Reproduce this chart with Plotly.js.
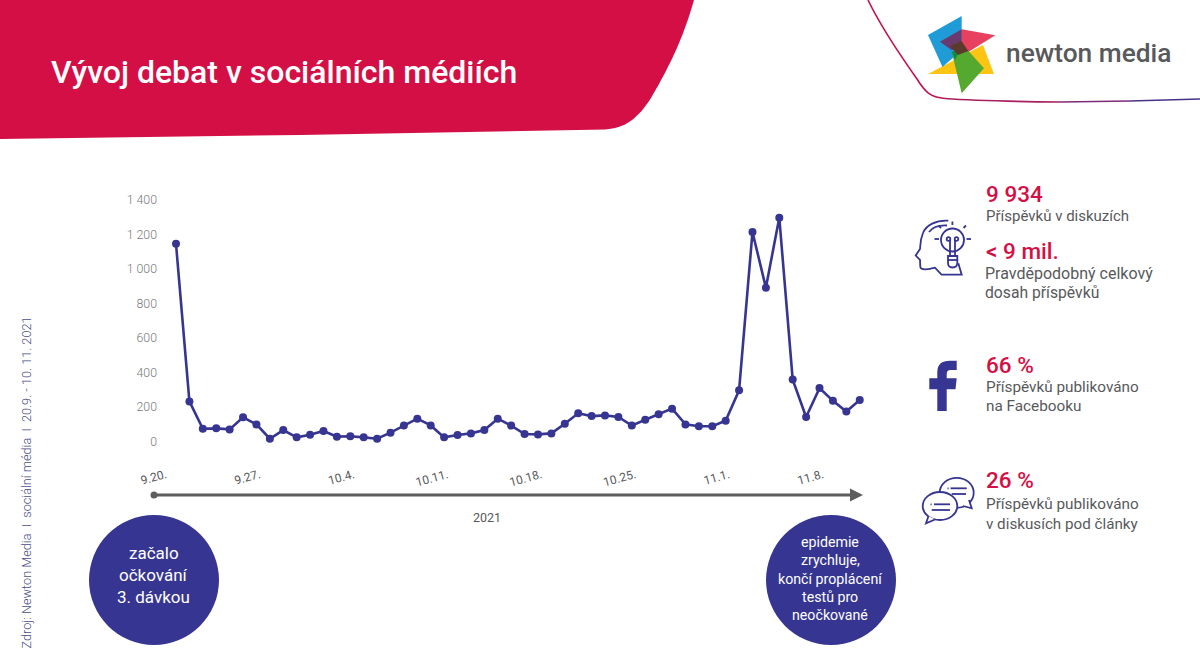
<!DOCTYPE html>
<html>
<head>
<meta charset="utf-8">
<script src="https://cdn.plot.ly/plotly-3.0.1.min.js"></script>
<style>
  html, body { margin: 0; padding: 0; background: #fff; }
  #chart { width: 1200px; height: 670px; }
</style>
</head>
<body>
<div id="chart"></div>
<script>
const days = ['9.20.','9.21.','9.22.','9.23.','9.24.','9.25.','9.26.','9.27.','9.28.','9.29.','9.30.',
  '10.1.','10.2.','10.3.','10.4.','10.5.','10.6.','10.7.','10.8.','10.9.','10.10.','10.11.','10.12.','10.13.','10.14.','10.15.','10.16.','10.17.','10.18.','10.19.','10.20.','10.21.','10.22.','10.23.','10.24.','10.25.','10.26.','10.27.','10.28.','10.29.','10.30.','10.31.',
  '11.1.','11.2.','11.3.','11.4.','11.5.','11.6.','11.7.','11.8.','11.9.','11.10.'];
const posts = [1145,233,75,77,71,141,100,17,67,25,40,
  62,29,31,25,17,52,94,133,94,25,39,48,67,133,93,44,42,48,104,164,148,152,143,93,127,158,191,100,89,89,121,
  297,1213,891,1296,359,143,310,237,174,241];
const xTicks = ['9.20.','9.27.','10.4.','10.11.','10.18.','10.25.','11.1.','11.8.'];
const yTicks = [0,200,400,600,800,1000,1200,1400];
const yTickLabels = ['0','200','400','600','800','1 000','1 200','1 400'];

const title = 'Vývoj debat v sociálních médiích';
const source = 'Zdroj: Newton Media  I  sociální média  I  20.9. - 10. 11. 2021';
const startNote = ['začalo','očkování','3. dávkou'];
const endNote = ['epidemie','zrychluje,','končí proplácení','testů pro','neočkované'];
const statBig = ['9 934','< 9 mil.','66 %','26 %'];
const statSmall = ['Příspěvků v diskuzích','Pravděpodobný celkový','dosah příspěvků','Příspěvků publikováno','na Facebooku','Příspěvků publikováno','v diskusích pod články'];

const RED = '#d40f45';
const INDIGO = '#363591';
const GREY = '#58595b';
const FONT = 'Roboto, sans-serif';

// pixel coordinates of the 1200x670 page -> paper coordinates
const px = x => x / 1200;
const py = y => 1 - y / 670;
const toPaper = d => d.replace(/(-?[\d.]+),(-?[\d.]+)/g, (m, x, y) => px(+x).toFixed(5) + ',' + py(+y).toFixed(5));

function pathShape(d, fill, lineColor, lineWidth) {
  return {
    type: 'path', xref: 'paper', yref: 'paper', path: toPaper(d),
    fillcolor: fill || 'rgba(0,0,0,0)',
    line: { color: lineColor || 'rgba(0,0,0,0)', width: lineWidth || 0 }
  };
}
function circleShape(cx, cy, rx, ry, fill, lineColor, lineWidth) {
  return {
    type: 'circle', xref: 'paper', yref: 'paper',
    x0: px(cx - rx), x1: px(cx + rx), y0: py(cy + ry), y1: py(cy - ry),
    fillcolor: fill || 'rgba(0,0,0,0)',
    line: { color: lineColor || 'rgba(0,0,0,0)', width: lineWidth || 0 }
  };
}
function label(text, x, y, size, color, opts) {
  return Object.assign({
    text, xref: 'paper', yref: 'paper', x: px(x), y: py(y), showarrow: false,
    xanchor: 'left', yanchor: 'middle',
    font: { family: FONT, size, color }
  }, opts || {});
}

const shapes = [];

// banner
shapes.push(pathShape('M0,0 L694,0 C684,35 672,62 651,98 C638,118 626,128 605,129.5 L300,135 L0,139 Z', RED));

// curved rule, colour runs from crimson to indigo
const ruleParts = [
  ['M868,0 C880,25 895,48 917,79 C925,92 930,97 945,98.5', '#c2134f'],
  ['M945,98.5 C980,101 1010,101.5 1060,102', '#a81f60'],
  ['M1060,102 L1130,101', '#7d2a78'],
  ['M1130,101 L1200,99', '#4b3289']
];
ruleParts.forEach(r => shapes.push(pathShape(r[0], null, r[1], 1.6)));

// logo
shapes.push(pathShape('M928,74 L983,45 L994,74 Z', '#fdc513'));
shapes.push(pathShape('M928,35 L961.7,16 L961.7,50 L942.5,67 Z', '#1f9bd7'));
shapes.push(pathShape('M961.7,29.3 L995.3,35.3 L968.3,52 L961.7,50 Z', '#e8405f'));
shapes.push(pathShape('M940,41.7 L961.7,29.3 L961.7,50 L951.5,50 Z', '#6a3a6e'));
shapes.push(pathShape('M951.7,51.7 L968.3,50.7 L984,68.3 L961.7,93.3 Z', '#55a92f'));
shapes.push(pathShape('M951.7,51.7 L960,50 L955,60 Z', '#0d8a4a'));
shapes.push(pathShape('M950,46 L961.5,41 L968.3,51 L958,55 Z', '#5a3b2b'));

// timeline arrow
shapes.push(pathShape('M154,495 L852,495', null, '#5d5d5d', 3));
shapes.push(circleShape(154, 495, 3.5, 3.5, '#5d5d5d'));
shapes.push(pathShape('M850,488.5 L863,495 L850,501.5 Z', '#5d5d5d'));

// note circles
shapes.push(circleShape(154, 580, 65, 65, INDIGO));
shapes.push(circleShape(831, 580, 65, 65, INDIGO));

// head and bulb icon
const ICON = 1.8;
shapes.push(pathShape('M948.3,220.7 C936,220 926,225 923,233 C920,240 920.5,245 920,249 L915.7,255.5 L920,260 L920.3,267 C921,270 927,270 935,267.7 L941.5,274.7 L961.7,274.7 L958.3,263.3', null, INDIGO, ICON));
shapes.push(pathShape('M947,225.5 C938,225 932,228 929,232', null, INDIGO, ICON));
shapes.push(circleShape(952.5, 240, 11.5, 11.5, null, INDIGO, ICON));
shapes.push(pathShape('M948,256 L948,263 Q948,267.5 952.5,267.5 Q957.3,267.5 957.3,263 L957.3,256 Z', '#fff', INDIGO, ICON));
shapes.push(pathShape('M948,260 L957.3,260', null, INDIGO, ICON));
shapes.push(pathShape('M950,256 L950,240 M955,256 L955,240', null, INDIGO, ICON));
shapes.push(circleShape(948.5, 239, 1.8, 1.8, null, INDIGO, ICON));
shapes.push(circleShape(956.5, 239, 1.8, 1.8, null, INDIGO, ICON));
['M952.4,221.5 L952.4,225','M966.5,239 L971,239','M934.5,239 L939,239','M963.5,228 L966,225.5','M941,228 L938.5,225.5'].forEach(d => {
  shapes.push(pathShape(d, null, INDIGO, ICON));
});

// facebook icon
shapes.push(pathShape('M937.3,411 L937.3,389.3 L929.3,389.3 L929.3,378.3 L937.3,378.3 L937.3,372 Q937.3,360.7 950,360.7 L956.7,360.7 L956.7,370 L950.5,370 Q946.7,370 946.7,374 L946.7,378.3 L956.7,378.3 L955.5,389.3 L946.7,389.3 L946.7,411 Z', INDIGO));

// chat icon
shapes.push(circleShape(956.7, 492.8, 17, 15, '#fff', INDIGO, 1.8));
shapes.push(pathShape('M963,506 L971.7,508.3 L969,500', '#fff', INDIGO, 1.8));
shapes.push(circleShape(940, 506, 17.3, 14, '#fff', INDIGO, 1.8));
shapes.push(pathShape('M928.5,516 L926,523.3 L935,519.5', '#fff', INDIGO, 1.8));
['M950.5,488.3 L966.7,488.3','M951.7,494 L966,494','M934,504.3 L950,504.3','M931.7,510 L950,510','M947.5,488.3 L948.6,488.3','M930.5,504.3 L931.6,504.3'].forEach(d => {
  shapes.push(pathShape(d, null, INDIGO, 1.8));
});

const annotations = [
  label(title, 49, 72, 32, '#fff', { font: { family: FONT, size: 32, color: '#fff', weight: 500 } }),
  label('newton media', 1004, 53, 26.3, GREY, { font: { family: FONT, size: 26.3, color: GREY, weight: 500 } }),
  label('2021', 487, 517.5, 12.5, GREY, { xanchor: 'center' }),
  label(source, 26, 482.5, 12.7, '#4b4d8a', { xanchor: 'center', textangle: -90, font: { family: FONT, size: 12.7, color: '#4b4d8a', weight: 300 } })
];

const startY = [553, 575, 597];
startNote.forEach((t, i) => annotations.push(label(t, 153.5, startY[i], 17, '#fff', { xanchor: 'center' })));
const endY = [542, 560, 579, 597, 615];
endNote.forEach((t, i) => annotations.push(label(t, 830, endY[i], 14.2, '#fff', { xanchor: 'center' })));

const bigY = [193.5, 251.5, 364.5, 479.5];
statBig.forEach((t, i) => annotations.push(label(t, 984, bigY[i], 22.5, RED, { font: { family: FONT, size: 22.5, color: RED, weight: 500 } })));
const smallY = [216, 273, 292, 387, 406, 504, 524];
const smallSize = [15, 16, 15.7, 15.3, 15.3, 15.3, 15.2];
statSmall.forEach((t, i) => annotations.push(label(t, i === 1 || i === 2 ? 983 : 984, smallY[i], smallSize[i], GREY)));

const traces = [{
  x: days,
  y: posts,
  type: 'scatter',
  mode: 'lines+markers',
  line: { color: INDIGO, width: 2.6 },
  marker: { color: INDIGO, size: 8 },
  cliponaxis: false,
  hoverinfo: 'x+y'
}];

const layout = {
  width: 1200,
  height: 670,
  margin: { l: 0, r: 0, t: 0, b: 0 },
  paper_bgcolor: '#fff',
  plot_bgcolor: 'rgba(0,0,0,0)',
  showlegend: false,
  font: { family: FONT },
  xaxis: {
    type: 'category',
    categoryorder: 'array',
    categoryarray: days,
    domain: [px(163), px(873)],
    range: [-0.97, 51.99],
    tickmode: 'array',
    tickvals: xTicks,
    ticktext: xTicks,
    tickangle: -15,
    ticklabelshift: -10,
    ticklabelstandoff: 5,
    tickfont: { family: FONT, size: 12, color: GREY },
    showgrid: false,
    zeroline: false,
    showline: false,
    ticks: ''
  },
  yaxis: {
    domain: [py(460), py(190)],
    range: [-106, 1456],
    tickmode: 'array',
    tickvals: yTicks,
    ticktext: yTickLabels,
    ticklabelstandoff: 5,
    tickfont: { family: FONT, size: 12.3, color: '#77787b', weight: 300 },
    showgrid: false,
    zeroline: false,
    showline: false,
    ticks: ''
  },
  shapes,
  annotations
};

Plotly.newPlot('chart', traces, layout, { displayModeBar: false, responsive: false });
</script>
</body>
</html>
